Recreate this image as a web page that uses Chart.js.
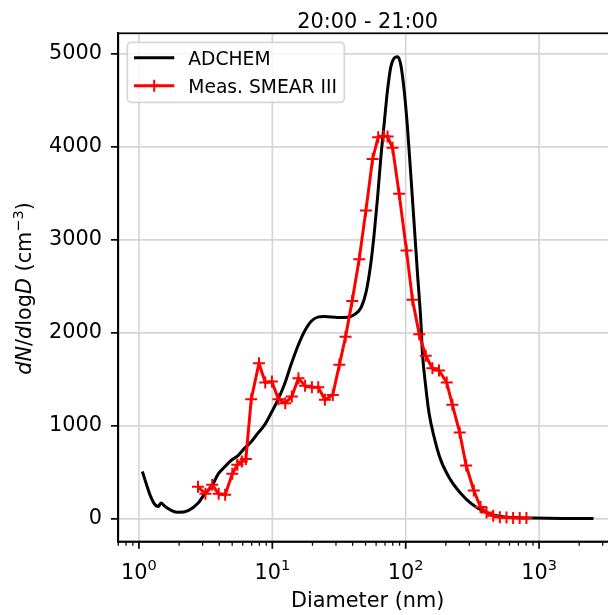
<!DOCTYPE html>
<html>
<head>
<meta charset="utf-8">
<script src="https://cdn.jsdelivr.net/npm/chart.js@4"></script>
<style>
html,body{margin:0;padding:0;overflow:hidden;background:#fff;width:608px;height:615px;}
canvas{display:block;}
</style>
</head>
<body>
<canvas id="c" width="625" height="615"></canvas>
<script>
// ---- data ----
const chartTitle = '20:00 - 21:00';
const xAxisTitle = 'Diameter (nm)';
const seriesNames = ['ADCHEM', 'Meas. SMEAR III'];
const yTickValues = [0, 1000, 2000, 3000, 4000, 5000];
const xTickExponents = [0, 1, 2, 3];

const adchemD = [1.06,1.11,1.21,1.32,1.40,1.46,1.57,1.76,1.97,2.34,2.78,3.11,3.50,3.92,4.4,4.93,5.53,6.2,6.95,7.8,8.75,9.82,11.0,12.3,13.8,15.5,17.4,19.5,21.9,24.6,30.9,36.7,41.1,46.2,50.3,54.8,58.1,61.6,65.2,69.0,73.1,77.4,81.9,86.9,91.9,97.3,103,109,115.6,122.5,129.7,133.5,141.3,149.6,163,183,217,258,307,365,433,514,647,912,1500,2560];
const adchemN = [509,419,258,151,133,169,133,89,70,89,169,270,346,480,560,630,680,760,830,921,1010,1140,1280,1441,1656,1853,2014,2122,2169,2175,2165,2168,2194,2270,2430,2749,3072,3466,3896,4254,4613,4864,4954,4971,4882,4613,4218,3717,3180,2642,2140,1782,1423,1137,885,634,419,276,169,97,50,25,14,8,4,3];

const smearD = [2.77,3.15,3.54,3.96,4.43,5.01,5.47,5.91,6.33,6.95,7.94,8.85,9.93,11.1,12.5,14.0,15.7,17.6,19.8,22.1,24.8,28.4,31.8,35.4,39.7,44.8,50.3,56.5,62.2,68.3,73.1,79.7,89.3,101.4,112.4,126.4,141.3,158.6,177.7,203,224,254,284,324,364,404,453,508,570,639,716,804];
const smearN = [344,269,366,269,258,484,581,616,642,1287,1674,1466,1476,1287,1244,1315,1513,1430,1416,1416,1280,1333,1656,1957,2344,2792,3315,3871,4104,4118,4111,3992,3495,2885,2355,1984,1753,1620,1595,1466,1226,928,573,304,126,68,32,18,14,8,8,8];

// ---- styling ----
const FONT = 'DejaVu Sans';
const FS = 20.8;
const GRID = '#d6d6d6';

Chart.defaults.font.family = FONT;
Chart.defaults.color = '#000';

const adchemData = adchemD.map((d, i) => ({x: d, y: adchemN[i]}));
const smearData = smearD.map((d, i) => ({x: d, y: smearN[i]}));

function drawRich(ctx, parts, cx, baseY) {
  let total = 0;
  const widths = parts.map(p => {
    ctx.font = (p.italic ? 'italic ' : '') + (p.sup ? FS * 0.7 : FS) + 'px "' + FONT + '"';
    const w = ctx.measureText(p.t).width;
    total += w;
    return w;
  });
  let x = cx - total / 2;
  ctx.textAlign = 'left';
  ctx.textBaseline = 'alphabetic';
  parts.forEach((p, i) => {
    ctx.font = (p.italic ? 'italic ' : '') + (p.sup ? FS * 0.7 : FS) + 'px "' + FONT + '"';
    ctx.fillText(p.t, x, p.sup ? baseY - 8.5 : baseY);
    x += widths[i];
  });
}

const decor = {
  id: 'decor',
  beforeDraw(chart) {
    const ctx = chart.ctx;
    ctx.save();
    ctx.fillStyle = '#fff';
    ctx.fillRect(0, 0, chart.width, chart.height);
    ctx.restore();
  },
  beforeDatasetsDraw(chart) {
    const {ctx, chartArea: a, scales: {x}} = chart;
    ctx.save();
    ctx.strokeStyle = GRID;
    ctx.lineWidth = 1.7;
    xTickExponents.forEach(n => {
      const px = x.getPixelForValue(Math.pow(10, n));
      ctx.beginPath();
      ctx.moveTo(px, a.top);
      ctx.lineTo(px, a.bottom);
      ctx.stroke();
    });
    ctx.restore();
  },
  afterDatasetsDraw(chart) {
    const {ctx, chartArea: a, scales: {x}} = chart;
    ctx.save();
    // frame
    ctx.strokeStyle = '#000';
    ctx.lineWidth = 1.7;
    ctx.strokeRect(a.left, a.top, a.right - a.left, a.bottom - a.top);

    // x ticks (major + minor)
    ctx.fillStyle = '#000';
    for (let n = -1; n <= 3; n++) {
      for (let m = 1; m <= 9; m++) {
        const v = m * Math.pow(10, n);
        if (v < x.min || v > x.max) continue;
        const px = x.getPixelForValue(v);
        ctx.beginPath();
        ctx.lineWidth = m === 1 ? 1.7 : 1.25;
        ctx.moveTo(px, a.bottom);
        ctx.lineTo(px, a.bottom + (m === 1 ? 7.3 : 4.2));
        ctx.stroke();
      }
    }
    // x tick labels with superscripts
    xTickExponents.forEach(n => {
      const px = x.getPixelForValue(Math.pow(10, n));
      drawRich(ctx, [{t: '10'}, {t: String(n), sup: true}], px, a.bottom + 37);
    });

    // x axis title
    ctx.font = FS + 'px "' + FONT + '"';
    ctx.textAlign = 'center';
    ctx.textBaseline = 'alphabetic';
    ctx.fillText(xAxisTitle, (a.left + a.right) / 2, 607);

    // chart title
    ctx.fillText(chartTitle, (a.left + a.right) / 2, 28);

    // y axis title (rotated)
    ctx.save();
    ctx.translate(31, (a.top + a.bottom) / 2 + 1);
    ctx.rotate(-Math.PI / 2);
    drawRich(ctx, [
      {t: 'd', italic: true}, {t: 'N', italic: true}, {t: '/'},
      {t: 'd', italic: true}, {t: 'log'}, {t: 'D', italic: true},
      {t: ' (cm'}, {t: '\u22123', sup: true}, {t: ')'}
    ], 0, 0);
    ctx.restore();

    // legend
    const lx = 127.3, ly = 42.3, lw = 217, lh = 60, r = 4;
    ctx.beginPath();
    ctx.moveTo(lx + r, ly);
    ctx.lineTo(lx + lw - r, ly);
    ctx.arcTo(lx + lw, ly, lx + lw, ly + r, r);
    ctx.lineTo(lx + lw, ly + lh - r);
    ctx.arcTo(lx + lw, ly + lh, lx + lw - r, ly + lh, r);
    ctx.lineTo(lx + r, ly + lh);
    ctx.arcTo(lx, ly + lh, lx, ly + lh - r, r);
    ctx.lineTo(lx, ly + r);
    ctx.arcTo(lx, ly, lx + r, ly, r);
    ctx.closePath();
    ctx.fillStyle = 'rgba(255,255,255,0.8)';
    ctx.fill();
    ctx.strokeStyle = 'rgba(204,204,204,0.8)';
    ctx.lineWidth = 1.7;
    ctx.stroke();

    const rows = [57.7, 85.7];
    const cols = ['#000000', '#ff0000'];
    rows.forEach((ry, i) => {
      ctx.strokeStyle = cols[i];
      ctx.lineWidth = 3;
      ctx.beginPath();
      ctx.moveTo(134, ry);
      ctx.lineTo(174.3, ry);
      ctx.stroke();
      if (i === 1) {
        ctx.lineWidth = 2;
        ctx.beginPath();
        ctx.moveTo(154.2, ry - 6);
        ctx.lineTo(154.2, ry + 6);
        ctx.moveTo(148.2, ry);
        ctx.lineTo(160.2, ry);
        ctx.stroke();
      }
    });
    ctx.fillStyle = '#000';
    ctx.font = '18.7px "' + FONT + '"';
    ctx.textAlign = 'left';
    ctx.textBaseline = 'alphabetic';
    ctx.fillText(seriesNames[0], 188.3, 65);
    ctx.fillText(seriesNames[1], 188.3, 92.5);
    ctx.restore();
  }
};

new Chart(document.getElementById('c'), {
  type: 'line',
  data: {
    datasets: [
      {
        label: seriesNames[0],
        data: adchemData,
        borderColor: '#000000',
        borderWidth: 3,
        pointRadius: 0,
        cubicInterpolationMode: 'monotone',
        fill: false,
        order: 1
      },
      {
        label: seriesNames[1],
        data: smearData,
        borderColor: '#ff0000',
        borderWidth: 3,
        tension: 0,
        pointStyle: 'cross',
        pointRadius: 6,
        pointBorderWidth: 2,
        pointBorderColor: '#ff0000',
        pointBackgroundColor: '#ff0000',
        fill: false,
        order: 0
      }
    ]
  },
  options: {
    responsive: false,
    devicePixelRatio: 1,
    animation: false,
    layout: {padding: {top: 33.3, right: 8, left: 0, bottom: 0}},
    plugins: {legend: {display: false}, tooltip: {enabled: false}, title: {display: false}},
    events: [],
    scales: {
      x: {
        type: 'logarithmic',
        min: 0.724,
        max: 3840,
        grid: {display: false, drawTicks: false},
        border: {display: true, color: '#000', width: 1.7},
        ticks: {display: false},
        afterFit(s) { s.height = 73.5; }
      },
      y: {
        type: 'linear',
        min: -244,
        max: 5222,
        grid: {color: GRID, lineWidth: 1.7, tickColor: '#000', tickLength: 7.3, tickWidth: 1.7},
        border: {display: true, color: '#000', width: 1.7},
        ticks: {
          padding: 9,
          color: '#000',
          font: {family: FONT, size: FS},
          callback: (v) => String(v)
        },
        afterBuildTicks(s) { s.ticks = yTickValues.map(v => ({value: v})); },
        afterFit(s) { s.width = 118.3; }
      }
    }
  },
  plugins: [decor]
});
</script>
</body>
</html>
